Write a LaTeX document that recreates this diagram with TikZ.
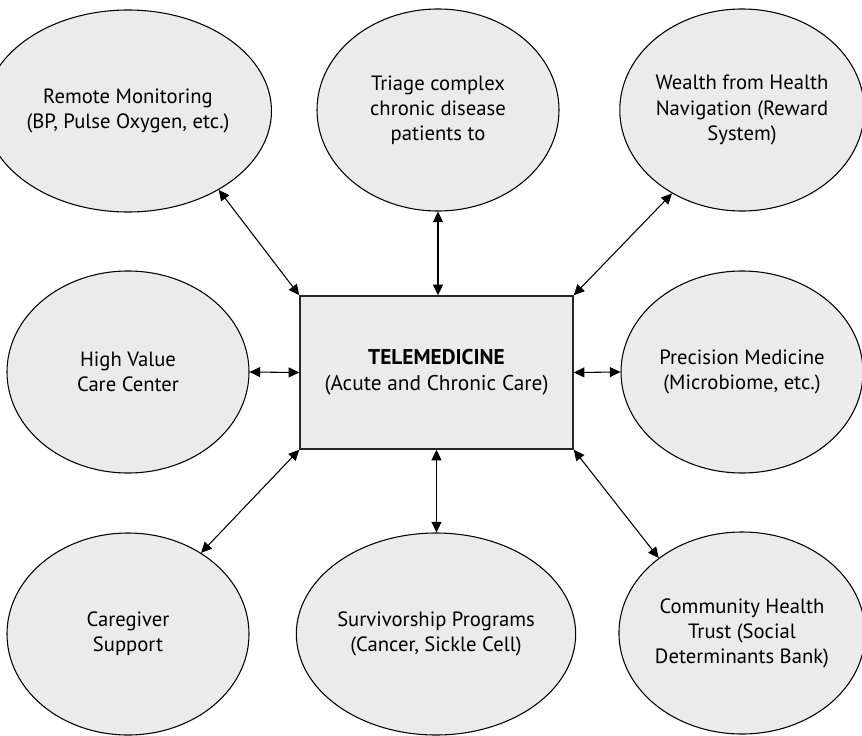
\documentclass[tikz,border=0pt]{standalone}
\usepackage{fontspec}
\setmainfont{PT Sans}
\usetikzlibrary{shapes.geometric,arrows.meta}
\definecolor{bubblefill}{HTML}{EBEBEB}
\begin{document}
\begin{tikzpicture}[x=0.75pt,y=-0.75pt,
  bubble/.style={ellipse,draw=black,fill=bubblefill,line width=0.8pt,
    minimum width=181.5pt,minimum height=151.5pt,inner sep=0pt,align=center,
    font=\fontsize{15.5}{18.8}\selectfont},
  hub/.style={rectangle,draw=black!85,fill=bubblefill,line width=1.1pt,
    minimum width=204.75pt,minimum height=114.75pt,align=center,
    font=\fontsize{16}{19.5}\selectfont},
  link/.style={{Triangle[length=8pt,width=7.5pt]}-{Triangle[length=8pt,width=7.5pt]},
    line width=0.8pt}]
\useasboundingbox (0,0) rectangle (862,735);

% central hub
\node[hub] (tm) at (436.5,372.5) {\textbf{TELEMEDICINE}\\(Acute and Chronic Care)};

% surrounding programmes
\node[bubble] (rm) at (128,111) {Remote Monitoring\\(BP, Pulse Oxygen, etc.)};
\node[bubble] (tr) at (438,110) {Triage complex\\chronic disease\\patients to};
\node[bubble] (wh) at (742,110) {Wealth from Health\\Navigation (Reward\\System)};
\node[bubble] (hv) at (128,372) {High Value\\Care Center};
\node[bubble] (pm) at (742,372) {Precision Medicine\\(Microbiome, etc.)};
\node[bubble] (cg) at (128,634) {Caregiver\\Support};
\node[bubble] (sp) at (436,634) {Survivorship Programs\\(Cancer, Sickle Cell)};
\node[bubble] (ch) at (742,633) {Community Health\\Trust (Social\\Determinants Bank)};

% two-way links
\draw[link] (rm.-41) -- (tm.north west);
\draw[link] (tr.south) -- (tr.south |- tm.north);
\draw[link] (wh.230) -- (tm.north east);
\draw[link] (hv.east) -- (tm.west);
\draw[link] (tm.east) -- (pm.west);
\draw[link] (cg.48.6) -- (tm.south west);
\draw[link] (tm.south) -- (tm.south |- sp.north);
\draw[link] (ch.138) -- (tm.south east);
\end{tikzpicture}
\end{document}
